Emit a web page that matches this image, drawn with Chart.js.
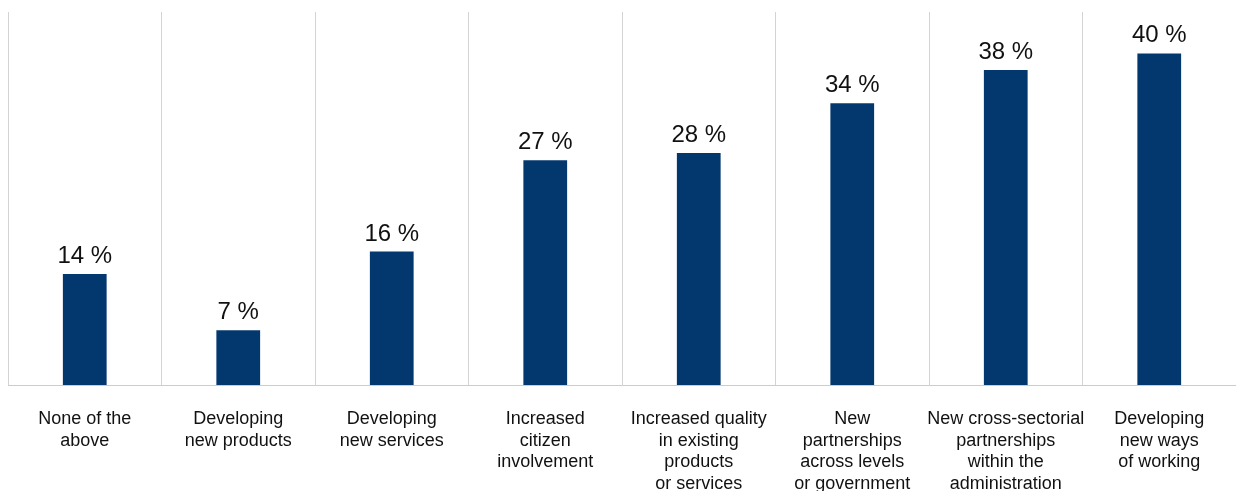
<!DOCTYPE html>
<html>
<head>
<meta charset="utf-8">
<script src="https://cdn.jsdelivr.net/npm/chart.js@4/dist/chart.umd.min.js"></script>
<style>
  body { margin: 0; background: #fff; }
  #wrap { width: 1236px; height: 491px; position: relative; }
</style>
</head>
<body>
<div id="wrap"><canvas id="myChart"></canvas></div>
<script>
// categories (split into lines as in the picture)
const categories = [
  ['None of the', 'above'],
  ['Developing', 'new products'],
  ['Developing', 'new services'],
  ['Increased', 'citizen', 'involvement'],
  ['Increased quality', 'in existing', 'products', 'or services'],
  ['New', 'partnerships', 'across levels', 'or government'],
  ['New cross-sectorial', 'partnerships', 'within the', 'administration'],
  ['Developing', 'new ways', 'of working']
]
// bar heights as measured in the picture, and the printed labels
const values = [13.4, 6.6, 16.1, 27.1, 28, 34, 38, 40]
const valueLabels = ['14 %', '7 %', '16 %', '27 %', '28 %', '34 %', '38 %', '40 %']
const yMax = 45

const fontFamily = '"Liberation Sans", Arial, Helvetica, sans-serif'

// value labels above each bar
const barLabels = {
  id: 'barLabels',
  afterDatasetsDraw(chart) {
    const ctx = chart.ctx
    const meta = chart.getDatasetMeta(0)
    ctx.save()
    ctx.font = '24px ' + fontFamily
    ctx.fillStyle = '#111'
    ctx.textAlign = 'center'
    ctx.textBaseline = 'alphabetic'
    meta.data.forEach((bar, i) => {
      ctx.fillText(valueLabels[i], bar.x, bar.y - 11)
    })
    ctx.restore()
  }
}

const ctx = document.getElementById('myChart').getContext('2d')
const chart = new Chart(ctx, {
  type: 'bar',
  data: {
    labels: categories,
    datasets: [{
      data: values,
      backgroundColor: '#03386f',
      borderWidth: 0,
      barPercentage: 0.57,
      categoryPercentage: 0.5
    }]
  },
  options: {
    responsive: true,
    maintainAspectRatio: false,
    animation: false,
    layout: { padding: { top: 12, left: 8, right: 0, bottom: 0 } },
    plugins: {
      legend: { display: false },
      tooltip: { enabled: false }
    },
    scales: {
      x: {
        afterFit(scale) { scale.height = 106 },
        grid: {
          offset: true,
          drawTicks: false,
          color: '#d4d4d4',
          lineWidth: 1
        },
        border: { display: true, color: '#cccccc', width: 1 },
        ticks: {
          padding: 23,
          maxRotation: 0,
          autoSkip: false,
          color: '#111',
          font: { family: fontFamily, size: 18, lineHeight: '21.7px' }
        }
      },
      y: {
        display: false,
        min: 0,
        max: yMax
      }
    }
  },
  plugins: [barLabels]
})
</script>
</body>
</html>
